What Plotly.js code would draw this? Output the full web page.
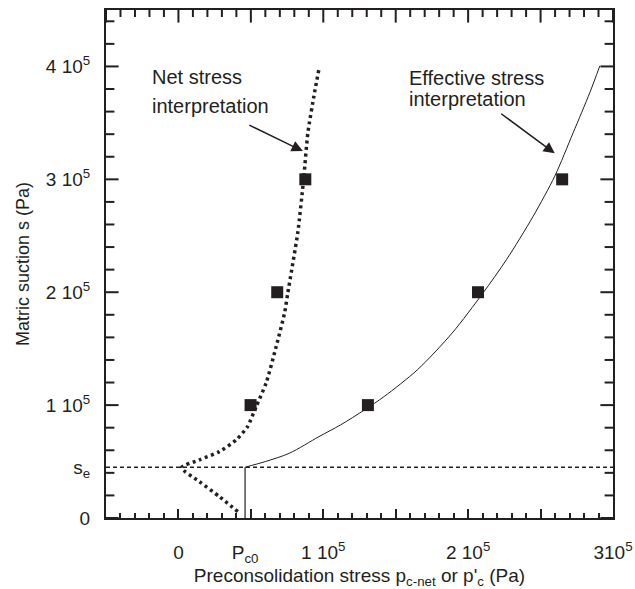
<!DOCTYPE html>
<html><head><meta charset="utf-8">
<script src="https://cdn.plot.ly/plotly-3.0.1.min.js"></script>
<style>html,body{margin:0;padding:0;background:#fff}</style>
</head><body>
<div id="chart" style="width:635px;height:589px"></div>
<script>
// Characteristic values
const Pc0 = 46000;
const se = 45000;

// Net stress interpretation curve (dotted)
const netP = [41000, 28300, 14500, 2000, 14500, 28300, 39900, 47700, 53700, 60600, 67500, 73300, 75500, 82400, 86400, 89400, 94000, 97000];
const netS = [5600, 18900, 32200, 44600, 51500, 58800, 69200, 81000, 98800, 119800, 152000, 181900, 199300, 252900, 299900, 341600, 377100, 397500];

// Effective stress interpretation curve (solid)
const effP = [Pc0, 60000, 76700, 97000, 112000, 128500, 142000, 165000, 189000, 210300, 226500, 244900, 259800, 272500, 284000, 290900];
const effS = [se, 50000, 57400, 72100, 82500, 95800, 107600, 131300, 163900, 199400, 228900, 267300, 302800, 341300, 376800, 400500];

// Measured points
const netPtsP = [49800, 68200, 87600];
const effPtsP = [130800, 206800, 264900];
const ptsS = [100000, 200000, 300000];

// s_e reference line and Pc0 vertical
const seLineP = [-50000, 300000];
const seLineS = [se, se];
const pcLineP = [Pc0, Pc0];
const pcLineS = [0, se];

// Tick labels
const xTickVals = [0, Pc0, 100000, 200000, 300000];
const xTickText = ['0', 'P<sub>c0</sub>', '1 10<sup>5</sup>', '2 10<sup>5</sup>', '310<sup>5</sup>'];
const yTickVals = [0, se, 100000, 200000, 300000, 400000];
const yTickText = ['0', 's<sub>e</sub>', '1 10<sup>5</sup>', '2 10<sup>5</sup>', '3 10<sup>5</sup>', '4 10<sup>5</sup>'];
// Tick-mark spacing
const xMajorStep = 50000, xMinorStep = 10000;
const yMajorStep = 100000, yMinorStep = 20000;

const FONT = 'Liberation Sans, Arial, Helvetica, sans-serif';
const INK = '#231f20';
const XR = [-50000, 300000], YR = [0, 450000];

// Tick positions on the frame (top / left / right), built from the steps
const xMinorPos = [], xMajorPos = [], yMinorPos = [], yMajorPos = [];
for (let k = Math.ceil(XR[0] / xMinorStep); k * xMinorStep <= XR[1]; k++) {
  const v = k * xMinorStep;
  (v % xMajorStep === 0 ? xMajorPos : xMinorPos).push(v);
}
for (let k = Math.ceil(YR[0] / yMinorStep); k * yMinorStep <= YR[1]; k++) {
  const v = k * yMinorStep;
  (v % yMajorStep === 0 ? yMajorPos : yMinorPos).push(v);
}
function tickTrace(xs, ys, symbol, len) {
  // centred line markers on the frame edge; the outer half is clipped by the plot area
  return {x: xs, y: ys, mode: 'markers', cliponaxis: true, hoverinfo: 'skip',
    marker: {symbol: symbol, size: 2 * len, color: INK, line: {color: INK, width: 2}}};
}

const traces = [
  {x: seLineP, y: seLineS, mode: 'lines', line: {color: INK, width: 1.5, dash: '4px,3px'}, hoverinfo: 'skip'},
  {x: pcLineP, y: pcLineS, mode: 'lines', line: {color: INK, width: 1.2}, hoverinfo: 'skip'},
  {x: netP, y: netS, mode: 'lines', line: {color: INK, width: 3.5, dash: '3px,3.5px', shape: 'spline', smoothing: 0.6}},
  {x: effP, y: effS, mode: 'lines', line: {color: INK, width: 1, shape: 'spline', smoothing: 0.8}},
  {x: netPtsP, y: ptsS, mode: 'markers', marker: {symbol: 'square', size: 12, color: INK}},
  {x: effPtsP, y: ptsS, mode: 'markers', marker: {symbol: 'square', size: 12, color: INK}},
  tickTrace(xMinorPos, xMinorPos.map(() => YR[1]), 'line-ns', 5),
  tickTrace(xMajorPos, xMajorPos.map(() => YR[1]), 'line-ns', 9),
  tickTrace(yMinorPos.map(() => XR[0]), yMinorPos, 'line-ew', 6),
  tickTrace(yMajorPos.map(() => XR[0]), yMajorPos, 'line-ew', 9),
  tickTrace(yMinorPos.map(() => XR[1]), yMinorPos, 'line-ew', 6),
  tickTrace(yMajorPos.map(() => XR[1]), yMajorPos, 'line-ew', 9),
  {x: [0], y: [0], xaxis: 'x2', yaxis: 'y', mode: 'markers', marker: {opacity: 0}, hoverinfo: 'skip'},
  {x: [0], y: [0], xaxis: 'x3', yaxis: 'y', mode: 'markers', marker: {opacity: 0}, hoverinfo: 'skip'}
];

function tickAxis(step, len) {
  return {overlaying: 'x', anchor: 'y', side: 'bottom', range: XR, showgrid: false, zeroline: false,
    showline: false, ticks: 'inside', ticklen: len, tickwidth: 1.5, tickcolor: INK,
    tickmode: 'linear', tick0: 0, dtick: step, showticklabels: false};
}

const layout = {
  width: 635, height: 589,
  margin: {l: 106, r: 22, t: 10, b: 71},
  paper_bgcolor: '#fff', plot_bgcolor: '#fff',
  showlegend: false,
  font: {family: FONT, color: INK, size: 19},
  xaxis: {
    range: XR, showgrid: false, zeroline: false, showline: true, linewidth: 2, linecolor: INK, mirror: true,
    ticks: '', tickmode: 'array', tickvals: xTickVals, ticktext: xTickText, tickfont: {size: 19}, ticklabelstandoff: 16,
    title: {text: "Preconsolidation stress p<sub>c-net</sub> or p'<sub>c</sub> (Pa)", font: {size: 19}, standoff: 0}
  },
  yaxis: {
    range: YR, showgrid: false, zeroline: false, showline: true, linewidth: 2, linecolor: INK, mirror: true,
    ticks: '', tickmode: 'array', tickvals: yTickVals, ticktext: yTickText, tickfont: {size: 19}, ticklabelstandoff: 10,
    title: {text: 'Matric suction s (Pa)', font: {size: 18}, standoff: 12}
  },
  xaxis2: tickAxis(xMinorStep, 5),
  xaxis3: tickAxis(xMajorStep, 9),
  annotations: [
    {x: -19600, y: 390400, xref: 'x', yref: 'y', text: 'Net stress', showarrow: false, xanchor: 'left', yanchor: 'middle', font: {size: 20}},
    {x: -19600, y: 365000, xref: 'x', yref: 'y', text: 'interpretation', showarrow: false, xanchor: 'left', yanchor: 'middle', font: {size: 20}},
    {x: 157800, y: 389500, xref: 'x', yref: 'y', text: 'Effective stress', showarrow: false, xanchor: 'left', yanchor: 'middle', font: {size: 20}},
    {x: 157800, y: 371500, xref: 'x', yref: 'y', text: 'interpretation', showarrow: false, xanchor: 'left', yanchor: 'middle', font: {size: 20}},
    {x: 85900, y: 325000, ax: 47900, ay: 348700, xref: 'x', yref: 'y', axref: 'x', ayref: 'y', text: '', showarrow: true,
      arrowhead: 2, arrowsize: 1.5, arrowwidth: 1.5, arrowcolor: INK, standoff: 0},
    {x: 259800, y: 323000, ax: 221800, ay: 359100, xref: 'x', yref: 'y', axref: 'x', ayref: 'y', text: '', showarrow: true,
      arrowhead: 2, arrowsize: 1.5, arrowwidth: 1.5, arrowcolor: INK, standoff: 0}
  ]
};

Plotly.newPlot('chart', traces, layout, {displayModeBar: false});
</script>
</body></html>
